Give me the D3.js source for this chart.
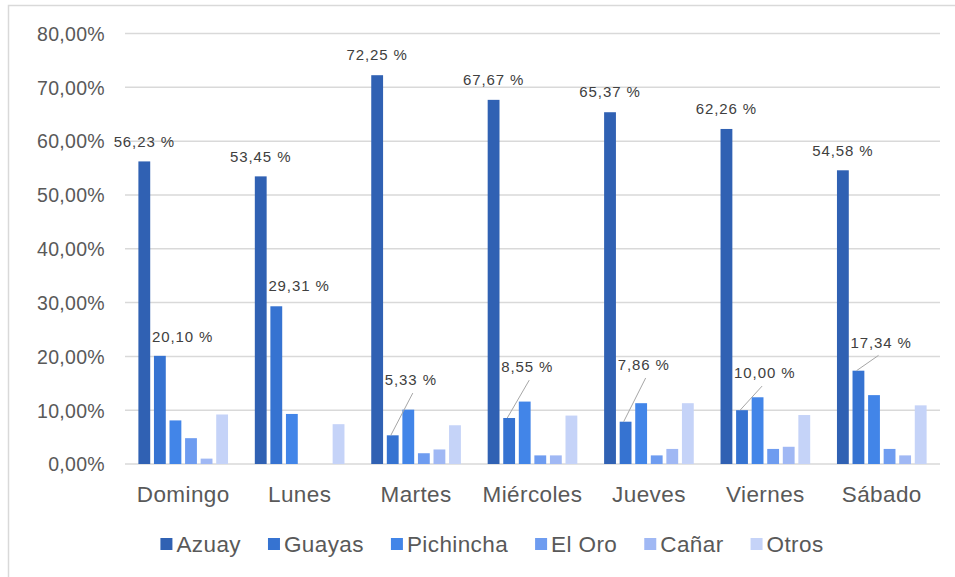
<!DOCTYPE html>
<html>
<head>
<meta charset="utf-8">
<script src="https://cdn.jsdelivr.net/npm/d3@7"></script>
<style>
  html, body { margin: 0; padding: 0; background: #fff; }
  svg { display: block; }
  text { font-family: "Liberation Sans", Arial, sans-serif; }
</style>
</head>
<body>
<svg id="chart" width="955" height="577"></svg>
<script>
const categories = ["Domingo", "Lunes", "Martes", "Miércoles", "Jueves", "Viernes", "Sábado"];
const seriesNames = ["Azuay", "Guayas", "Pichincha", "El Oro", "Cañar", "Otros"];
const azuay     = [56.23, 53.45, 72.25, 67.67, 65.37, 62.26, 54.58];
const guayas    = [20.10, 29.31, 5.33, 8.55, 7.86, 10.00, 17.34];
const pichincha = [8.1, 9.3, 10.1, 11.6, 11.3, 12.4, 12.8];
const elOro     = [4.8, 0, 2.0, 1.6, 1.6, 2.8, 2.8];
const canar     = [1.0, 0, 2.7, 1.6, 2.8, 3.2, 1.6];
const otros     = [9.2, 7.4, 7.2, 9.0, 11.3, 9.1, 10.9];
const yTicks    = [0, 10, 20, 30, 40, 50, 60, 70, 80];
// where the Guayas value labels sit, in chart units
const guayasLabelAt = [23.7, 33.2, 15.6, 18.0, 18.4, 16.9, 22.6];

const seriesValues = [azuay, guayas, pichincha, elOro, canar, otros];
const colors = ["#3061b3", "#3673d1", "#4285e8", "#6e9cf0", "#a0b8f4", "#c5d3f8"];

const svg = d3.select("#chart");
const plot = { left: 125, right: 940, top: 33.5, bottom: 464 };

const fmt = v => d3.format(".2f")(v).replace(".", ",");

// chart border (right/bottom edges fall outside the picture)
svg.append("rect")
  .attr("x", 8.5).attr("y", 5.5)
  .attr("width", 1000).attr("height", 1000)
  .attr("fill", "none").attr("stroke", "#d9d9d9").attr("stroke-width", 1.5);

const x0 = d3.scaleBand().domain(categories)
  .range([plot.left, plot.right]).paddingInner(0.23).paddingOuter(0.115);
const x1 = d3.scaleBand().domain(seriesNames)
  .range([0, x0.bandwidth()]).paddingInner(0.24).paddingOuter(0);
const y = d3.scaleLinear().domain([0, 80]).range([plot.bottom, plot.top]);

// gridlines
svg.append("g").selectAll("line").data(yTicks).join("line")
  .attr("x1", plot.left).attr("x2", plot.right)
  .attr("y1", d => y(d)).attr("y2", d => y(d))
  .attr("stroke", "#d9d9d9").attr("stroke-width", 1.5);

// y axis labels
const yAxis = d3.axisLeft(y).tickValues(yTicks).tickSize(0).tickPadding(0)
  .tickFormat(d => fmt(d) + "%");
const gy = svg.append("g").attr("transform", `translate(105,0)`).call(yAxis);
gy.select(".domain").remove();
gy.selectAll("text")
  .attr("fill", "#595959").attr("font-size", "19.5px")
  .attr("font-family", "Liberation Sans, Arial, sans-serif")
  .style("letter-spacing", "0.3px").attr("dy", "0.35em");

// x axis labels
const xAxis = d3.axisBottom(x0).tickSize(0).tickPadding(0);
const gx = svg.append("g").attr("transform", `translate(0,${plot.bottom})`).call(xAxis);
gx.select(".domain").remove();
gx.selectAll("text")
  .attr("fill", "#595959").attr("font-size", "22.5px")
  .attr("font-family", "Liberation Sans, Arial, sans-serif")
  .style("letter-spacing", "0.4px").attr("y", 38).attr("dy", 0);

// bars
const groups = svg.append("g").selectAll("g").data(categories).join("g")
  .attr("transform", d => `translate(${x0(d)},0)`);
groups.selectAll("rect")
  .data((c, i) => seriesNames.map((s, j) => ({ s, j, v: seriesValues[j][i] })).filter(d => d.v > 0))
  .join("rect")
  .attr("x", d => x1(d.s)).attr("width", x1.bandwidth())
  .attr("y", d => y(d.v)).attr("height", d => y(0) - y(d.v))
  .attr("fill", d => colors[d.j]);

// Azuay labels
svg.append("g").selectAll("text").data(categories).join("text")
  .attr("x", (c) => x0(c) + x1("Azuay") + x1.bandwidth() / 2)
  .attr("y", (c, i) => y(azuay[i]) - 20)
  .attr("dy", "0.35em")
  .attr("text-anchor", "middle")
  .attr("font-size", "15px").style("letter-spacing", "0.9px")
  .attr("fill", "#404040")
  .text((c, i) => fmt(azuay[i]) + " %");

// Guayas labels with leader lines
const gl = svg.append("g");
categories.forEach((c, i) => {
  const bx = x0(c) + x1("Guayas");
  const ly = y(guayasLabelAt[i]);
  const lx = bx - 2;
  if (guayasLabelAt[i] - guayas[i] > 4.5) {
    gl.append("line")
      .attr("x1", bx + 4).attr("y1", y(guayas[i]))
      .attr("x2", lx + 28).attr("y2", ly + 13)
      .attr("stroke", "#a6a6a6").attr("stroke-width", 1);
  }
  gl.append("text")
    .attr("x", lx).attr("y", ly).attr("dy", "0.35em")
    .attr("font-size", "15px").style("letter-spacing", "0.9px")
    .attr("fill", "#404040")
    .text(fmt(guayas[i]) + " %");
});

// legend
const leg = svg.append("g");
let cx = 0;
seriesNames.forEach((s, j) => {
  const g = leg.append("g").attr("transform", `translate(${cx},0)`);
  g.append("rect").attr("x", 0).attr("y", -6).attr("width", 12).attr("height", 12)
    .attr("fill", colors[j]);
  const t = g.append("text").attr("x", 16).attr("y", 0).attr("dy", "0.35em")
    .attr("font-size", "22.5px").style("letter-spacing", "0.4px")
    .attr("fill", "#595959").text(s);
  cx += 16 + t.node().getComputedTextLength() + 27;
});
const legW = cx - 27;
leg.attr("transform", `translate(${492 - legW / 2},544)`);
</script>
</body>
</html>
